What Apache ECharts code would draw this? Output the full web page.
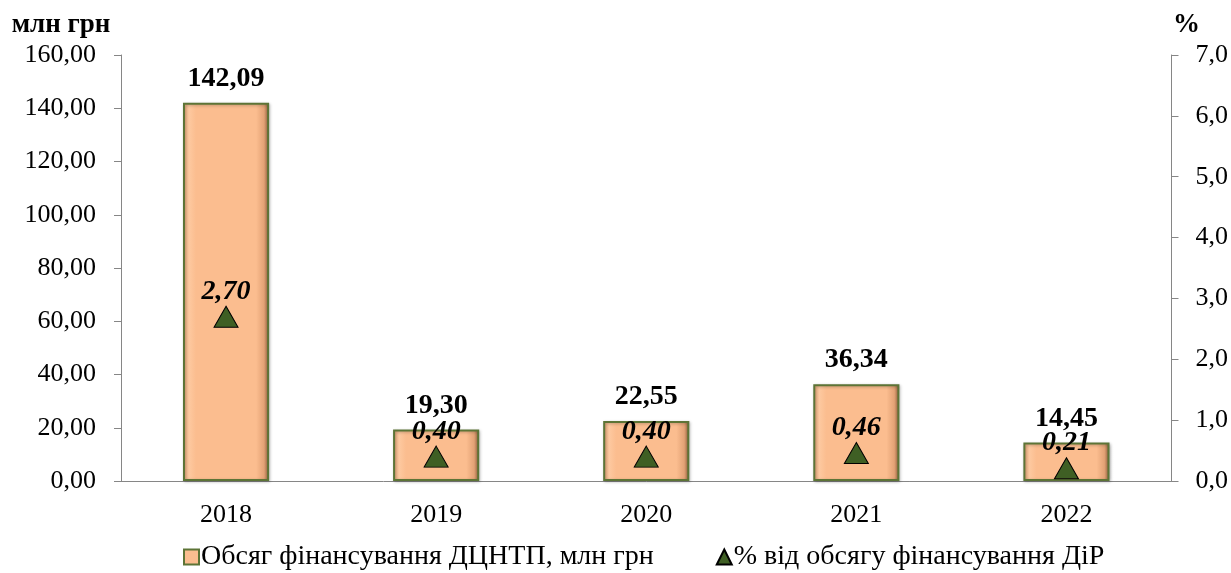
<!DOCTYPE html>
<html>
<head>
<meta charset="utf-8">
<script src="https://cdn.jsdelivr.net/npm/echarts@6/dist/echarts.min.js"></script>
<style>html,body{margin:0;padding:0;background:#fff}#c{width:1231px;height:573px}</style>
</head>
<body>
<div id="c"></div>
<script>
const categories = ['2018', '2019', '2020', '2021', '2022'];
const fundingValues = [142.09, 19.30, 22.55, 36.34, 14.45];
const percentValues = [2.70, 0.40, 0.40, 0.46, 0.21];
const seriesNames = ['Обсяг фінансування ДЦНТП, млн грн', '% від обсягу фінансування ДіР'];
const axisNames = ['млн грн', '%'];

const FONT = '"Liberation Serif", "Times New Roman", serif';
const comma = (v, d) => v.toFixed(d).replace('.', ',');

const barFill = new echarts.graphic.LinearGradient(0, 0, 1, 0, [
  { offset: 0, color: '#e9a777' },
  { offset: 0.07, color: '#fdc9a0' },
  { offset: 0.15, color: '#fbbd8f' },
  { offset: 0.85, color: '#fbbd8f' },
  { offset: 0.94, color: '#e3a275' },
  { offset: 1, color: '#8a5c3a' }
]);

const chart = echarts.init(document.getElementById('c'), null, { renderer: 'canvas' });
chart.setOption({
  animation: false,
  backgroundColor: '#fff',
  textStyle: { fontFamily: FONT },
  grid: { left: 121, right: 59, top: 55, bottom: 92, containLabel: false },
  legend: {
    bottom: -3,
    left: 178,
    itemGap: 62,
    itemWidth: 15,
    itemHeight: 15,
    textStyle: { fontFamily: FONT, fontSize: 28, color: '#000', padding: [0, 0, 0, -3] },
    data: [
      { name: seriesNames[0], icon: 'rect' },
      { name: seriesNames[1], icon: 'triangle' }
    ]
  },
  xAxis: {
    type: 'category',
    data: categories,
    axisLine: { lineStyle: { color: '#868686', width: 1 } },
    axisTick: { show: false },
    axisLabel: { fontFamily: FONT, fontSize: 26, color: '#000', margin: 21 }
  },
  yAxis: [
    {
      type: 'value', min: 0, max: 160, interval: 20,
      name: axisNames[0],
      nameLocation: 'end',
      nameGap: 16,
      nameTextStyle: { fontFamily: FONT, fontSize: 27, fontWeight: 'bold', color: '#000', align: 'center', padding: [0, 120, 0, 0] },
      axisLine: { show: true, lineStyle: { color: '#868686' } },
      axisTick: { show: true, length: 7, lineStyle: { color: '#868686' } },
      splitLine: { show: false },
      axisLabel: { fontFamily: FONT, fontSize: 26, color: '#000', margin: 25, formatter: v => comma(v, 2) }
    },
    {
      type: 'value', min: 0, max: 7, interval: 1,
      name: axisNames[1],
      nameLocation: 'end',
      nameGap: 16,
      nameTextStyle: { fontFamily: FONT, fontSize: 27, fontWeight: 'bold', color: '#000', align: 'center', padding: [0, 0, 0, 30] },
      axisLine: { show: true, lineStyle: { color: '#868686' } },
      axisTick: { show: true, length: 7, lineStyle: { color: '#868686' } },
      splitLine: { show: false },
      axisLabel: { fontFamily: FONT, fontSize: 26, color: '#000', margin: 24, formatter: v => comma(v, 1) }
    }
  ],
  series: [
    {
      name: seriesNames[0],
      type: 'bar',
      yAxisIndex: 0,
      barWidth: '41%',
      data: fundingValues,
      itemStyle: {
        color: barFill,
        borderColor: '#5d7436',
        borderWidth: 2,
        shadowColor: 'rgba(0,0,0,0.25)',
        shadowBlur: 3,
        shadowOffsetX: 1,
        shadowOffsetY: 1
      },
      label: {
        show: true,
        position: 'top',
        distance: 10,
        fontFamily: FONT,
        fontSize: 28,
        fontWeight: 'bold',
        color: '#000',
        formatter: p => comma(p.value, 2)
      },
      z: 2
    },
    {
      name: seriesNames[1],
      type: 'line',
      yAxisIndex: 1,
      data: percentValues,
      lineStyle: { width: 0, opacity: 0 },
      symbol: 'triangle',
      symbolSize: [24, 21],
      itemStyle: { color: '#3f5f24', borderColor: '#000', borderWidth: 1 },
      label: {
        show: true,
        position: 'top',
        distance: 0,
        fontFamily: FONT,
        fontSize: 28,
        fontWeight: 'bold',
        fontStyle: 'italic',
        color: '#000',
        formatter: p => comma(p.value, 2)
      },
      z: 5
    }
  ]
});
</script>
</body>
</html>
